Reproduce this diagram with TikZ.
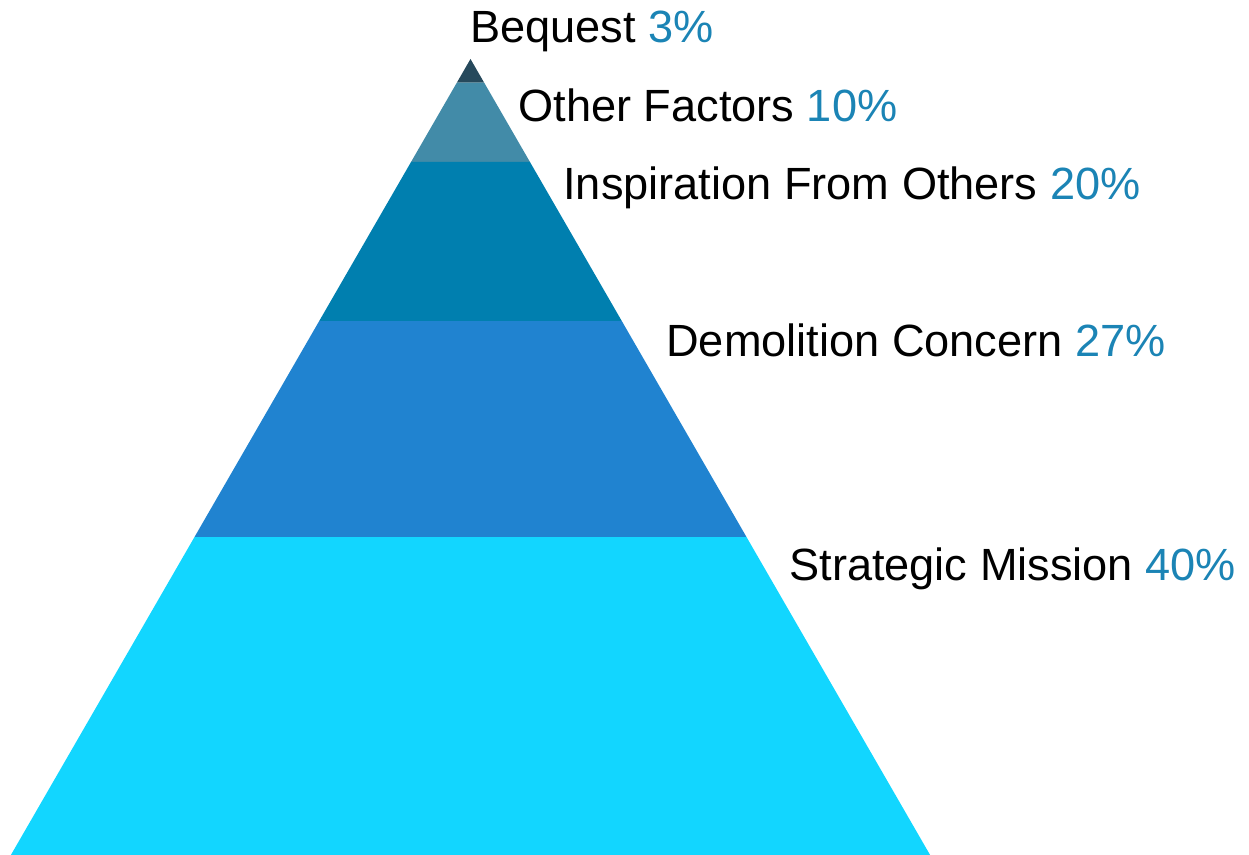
\documentclass[tikz,border=0pt]{standalone}
\usepackage{fontspec}
\setmainfont{Liberation Sans}
\definecolor{bequestcol}{HTML}{26495C}
\definecolor{othercol}{HTML}{428BA8}
\definecolor{inspirecol}{HTML}{007FAF}
\definecolor{demolcol}{HTML}{2083D0}
\definecolor{strategcol}{HTML}{12D6FF}
\definecolor{pctcol}{HTML}{1B84B5}
\tikzset{layerlabel/.style={anchor=base west,inner sep=0pt,font=\fontsize{25.7}{30}\selectfont}}
\newcommand{\pct}[1]{\textcolor{pctcol}{#1\%}}

\begin{document}
\begin{tikzpicture}[x=0.02cm,y=-0.02cm]
            \useasboundingbox (0,0) rectangle (1249,855);
            % layers of the pyramid, apex at (470.5,59)
            \foreach \ytop/\ybot/\col in {59/82.7/bequestcol,82.7/162/othercol,162/321/inspirecol,321/537/demolcol,537/855/strategcol}
                \fill[\col] ({470.5-(\ytop-59)*0.5774},\ytop) -- ({470.5+(\ytop-59)*0.5774},\ytop)
                    -- ({470.5+(\ybot-59)*0.5774},\ybot) -- ({470.5-(\ybot-59)*0.5774},\ybot) -- cycle;
            
            \node[layerlabel] (bequest) at (470,43) {Bequest \pct{3}};
            \node[layerlabel] (other) at (518,121.5) {Other Factors \pct{10}};
            \node[layerlabel] (inspiration) at (563,200) {Inspiration From Others \pct{20}};
            \node[layerlabel] (demolition) at (666,357) {Demolition Concern \pct{27}};
            \node[layerlabel] (strategic) at (789,580) {Strategic Mission \pct{40}};
        \end{tikzpicture}
\end{document}
